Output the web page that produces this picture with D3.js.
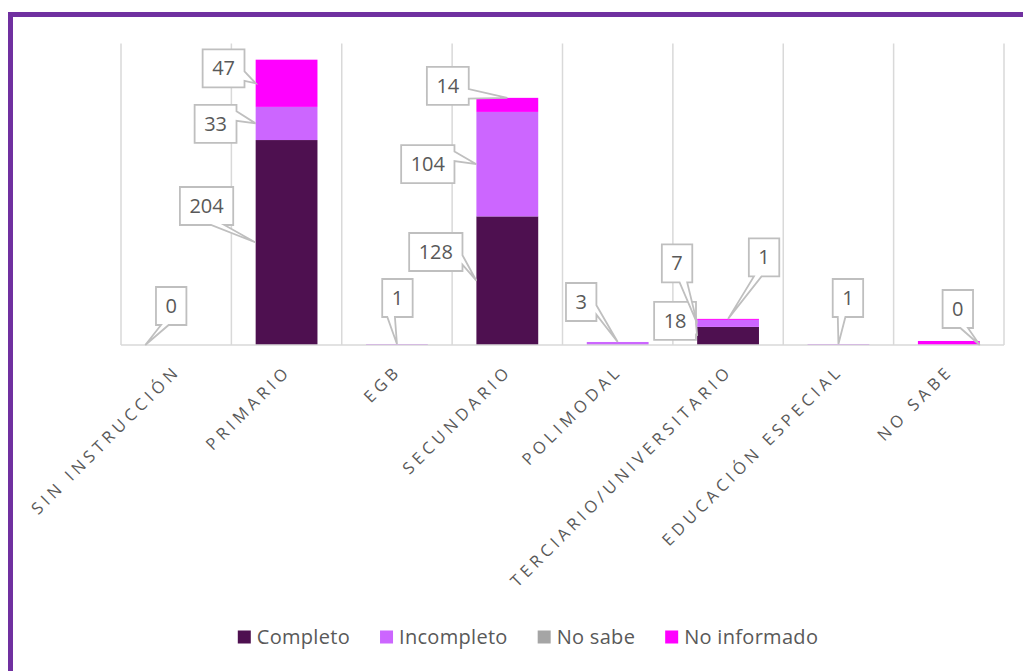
<!DOCTYPE html>
<html><head><meta charset="utf-8">
<script src="https://cdn.jsdelivr.net/npm/d3@7"></script>
<style>body{margin:0;background:#fff}svg{display:block}</style>
</head><body>
<svg id="c" width="1023" height="671"></svg>
<script>
// ---- data ----
const categories = ["SIN INSTRUCCIÓN","PRIMARIO","EGB","SECUNDARIO","POLIMODAL","TERCIARIO/UNIVERSITARIO","EDUCACIÓN ESPECIAL","NO SABE"];
const seriesNames = ["Completo","Incompleto","No sabe","No informado"];
const completo    = [0,204,0,128,0,18,0,0];
const incompleto  = [0,33,1,104,3,7,1,0];
const noSabe      = [0,0,0,0,0,0,0,0];
const noInformado = [0,47,0,14,0,1,0,4];
const seriesValues = [completo, incompleto, noSabe, noInformado];
// data labels shown: [category index, series index]
const shownLabels = [[0,0],[1,0],[1,1],[1,3],[2,1],[3,0],[3,1],[3,3],[4,1],[5,0],[5,1],[5,3],[6,1],[7,2]];

// ---- layout (callout box offsets & leader tip location) ----
const calloutLayout = [
  {dx:-5,  dy:-39,  fx:0,   fy:0.5},
  {dx:-80, dy:-36.5,fx:0,   fy:0.5},
  {dx:-71, dy:0.5,  fx:0,   fy:0.5},
  {dx:-63, dy:-15,  fx:0,   fy:0.5},
  {dx:0.5, dy:-46.5,fx:0.5, fy:0},
  {dx:-71.5,dy:-28.7,fx:0,  fy:0.5},
  {dx:-79.5,dy:0,   fx:0,   fy:0.5},
  {dx:-59.5,dy:-19, fx:0.5, fy:0},
  {dx:-36.5,dy:-41.5,fx:0.5,fy:0},
  {dx:-53, dy:-15,  fx:0,   fy:0.5},
  {dx:-51, dy:-60,  fx:0,   fy:0.5},
  {dx:36,  dy:-62,  fx:0.5, fy:0},
  {dx:9.5, dy:-46.5,fx:0.5, fy:0},
  {dx:9,   dy:-36,  fx:1,   fy:0.5}
];
const colors = ["#4E1050","#CC66FF","#A5A5A5","#FF00FF"];
const textColor = "#595959";
const gridColor = "#D9D9D9";
const FONT = "'Open Sans', 'Noto Sans', sans-serif";

const svg = d3.select("#c");
// frame
svg.append("rect").attr("x",10.5).attr("y",14.5).attr("width",1100).attr("height",800)
  .attr("fill","none").attr("stroke","#7030A0").attr("stroke-width",5);

const x = d3.scaleBand().domain(categories).range([121,1004]).paddingInner(0.44).paddingOuter(0.22);
const y = d3.scaleLinear().domain([0,300]).range([345,43.6]);
const step = x.step(), bw = x.bandwidth(), gapHalf = (step-bw)/2;

// vertical gridlines at category boundaries
const bounds = categories.map(c => x(c)-gapHalf).concat([x(categories[categories.length-1])+bw+gapHalf]);
svg.append("g").selectAll("line").data(bounds).join("line")
  .attr("x1",d=>d).attr("x2",d=>d).attr("y1",y(300)).attr("y2",y(0))
  .attr("stroke",gridColor).attr("stroke-width",1.5);

// stacked data
const table = categories.map((c,i)=>{const o={cat:c}; seriesNames.forEach((s,j)=>o[s]=seriesValues[j][i]); return o;});
const stack = d3.stack().keys(seriesNames)(table);

svg.append("g").selectAll("g").data(stack).join("g").attr("fill",(d,i)=>colors[i])
  .selectAll("rect").data(d=>d).join("rect")
  .attr("x",d=>x(d.data.cat)).attr("width",bw)
  .attr("y",d=>y(d[1])).attr("height",d=>y(d[0])-y(d[1]));

// x axis baseline
const axis = d3.axisBottom(x).tickSize(0).tickSizeOuter(0);
const ax = svg.append("g").attr("transform",`translate(0,${y(0)})`).call(axis);
ax.select(".domain").attr("stroke",gridColor).attr("stroke-width",1.5)
  .attr("d",`M${bounds[0]},0H${bounds[bounds.length-1]}`);
ax.selectAll(".tick text")
  .attr("font-family",FONT).attr("font-size",16.5).attr("fill",textColor)
  .attr("letter-spacing","4.3px")
  .attr("text-anchor","end").attr("dy",null).attr("y",null)
  .attr("transform","translate(5.5,27) rotate(-45)");

// callouts
const cg = svg.append("g");
shownLabels.forEach(([ci,si],k)=>{
  const L = calloutLayout[k];
  const cat = categories[ci];
  const seg = stack[si][ci];
  const y0 = y(seg[0]), y1 = y(seg[1]);
  const midY = (y0+y1)/2;
  const cx = x(cat)+bw/2;
  const tipX = x(cat)+L.fx*bw, tipY = y1 + L.fy*(y0-y1);
  const t = cg.append("text").text(seriesValues[si][ci])
    .attr("font-family",FONT).attr("font-size",20).attr("fill",textColor)
    .attr("text-anchor","middle");
  const tw = t.node().getComputedTextLength();
  const w = tw+19, h = 38;
  const bx = cx+L.dx, by = midY+L.dy;
  const l = bx-w/2, tp = by-h/2;
  const dxPos = tipX-bx, dyPos = tipY-by;
  let p;
  const inside = Math.abs(dxPos)<=w/2 && Math.abs(dyPos)<=h/2;
  if (inside) {
    p = `M${l},${tp}H${l+w}V${tp+h}H${l}Z`;
  } else if (Math.abs(dxPos)/w > Math.abs(dyPos)/h) {
    const ya = tp + h*(dyPos>0?7:2)/12, yb = tp + h*(dyPos>0?10:5)/12;
    if (dxPos>0) p = `M${l},${tp}H${l+w}V${ya}L${tipX},${tipY}L${l+w},${yb}V${tp+h}H${l}Z`;
    else p = `M${l},${tp}H${l+w}V${tp+h}H${l}V${yb}L${tipX},${tipY}L${l},${ya}Z`;
  } else {
    const xa = l + w*(dxPos>0?7:2)/12, xb = l + w*(dxPos>0?10:5)/12;
    if (dyPos>0) p = `M${l},${tp}H${l+w}V${tp+h}H${xb}L${tipX},${tipY}L${xa},${tp+h}H${l}Z`;
    else p = `M${l},${tp}H${xa}L${tipX},${tipY}L${xb},${tp}H${l+w}V${tp+h}H${l}Z`;
  }
  cg.insert("path","text").attr("d",p).attr("fill","#fff").attr("stroke","#BFBFBF").attr("stroke-width",1.8);
  t.attr("x",bx).attr("y",by+7);
});

// legend
const lg = svg.append("g");
let lx = 0;
seriesNames.forEach((s,i)=>{
  const g = lg.append("g");
  g.append("rect").attr("x",0).attr("y",-7).attr("width",13).attr("height",13).attr("fill",colors[i]);
  const t = g.append("text").attr("x",19).attr("y",6.5).text(s)
    .attr("font-family",FONT).attr("font-size",20).attr("letter-spacing","0.3px").attr("fill",textColor);
  const w = 19 + t.node().getComputedTextLength();
  g.attr("transform",`translate(${lx},0)`);
  lx += w + 30;
});
const totalW = lx - 30;
lg.attr("transform",`translate(${528-totalW/2},637.5)`);
</script>
</body></html>
